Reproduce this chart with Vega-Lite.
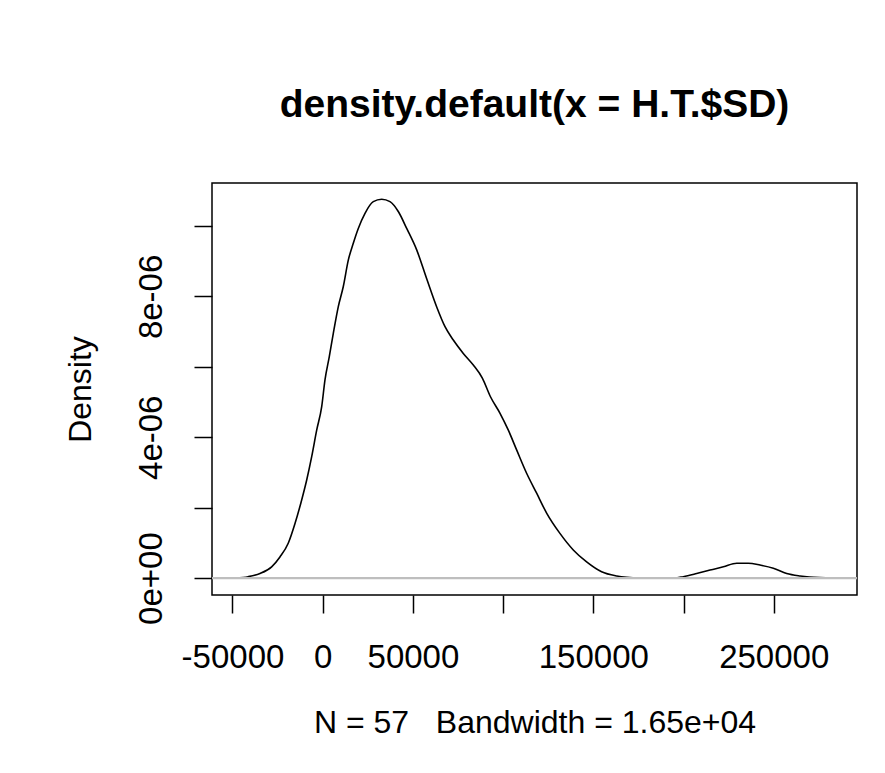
{
  "$schema": "https://vega.github.io/schema/vega-lite/v6.json",
  "width": 645,
  "height": 412,
  "autosize": {"type": "none"},
  "padding": {"left": 212, "top": 183, "right": 28, "bottom": 178},
  "background": "white",
  "title": {
    "text": "density.default(x = H.T.$SD)",
    "font": "Liberation Sans",
    "fontSize": 39,
    "fontWeight": "bold",
    "color": "black",
    "anchor": "middle",
    "baseline": "alphabetic",
    "offset": 27
  },
  "config": {
    "view": {"stroke": "black", "strokeWidth": 1.5},
    "axis": {
      "domain": false,
      "grid": false,
      "ticks": true,
      "tickColor": "black",
      "tickWidth": 1.5,
      "tickSize": 18,
      "labelFont": "Liberation Sans",
      "labelFontSize": 33,
      "labelColor": "black",
      "labelOverlap": false,
      "labelFlush": false,
      "titleFont": "Liberation Sans",
      "titleFontSize": 32,
      "titleFontWeight": "normal",
      "titleColor": "black"
    }
  },
  "data": {
    "values": [
      {"x": -48000, "density": 0},
      {"x": -41300, "density": 0.00000004},
      {"x": -34750, "density": 0.00000013},
      {"x": -28300, "density": 0.00000032},
      {"x": -23700, "density": 0.0000006},
      {"x": -19100, "density": 0.00000099},
      {"x": -15350, "density": 0.00000155},
      {"x": -11650, "density": 0.00000222},
      {"x": -8900, "density": 0.00000278},
      {"x": -6100, "density": 0.00000345},
      {"x": -3330, "density": 0.0000042},
      {"x": -550, "density": 0.00000487},
      {"x": 1270, "density": 0.00000563},
      {"x": 3660, "density": 0.00000629},
      {"x": 5880, "density": 0.00000695},
      {"x": 8650, "density": 0.00000771},
      {"x": 11420, "density": 0.00000828},
      {"x": 14190, "density": 0.00000903},
      {"x": 16960, "density": 0.00000951},
      {"x": 19730, "density": 0.00000993},
      {"x": 23450, "density": 0.00001036},
      {"x": 28050, "density": 0.00001069},
      {"x": 32700, "density": 0.00001076},
      {"x": 37300, "density": 0.00001069},
      {"x": 41900, "density": 0.00001041},
      {"x": 46560, "density": 0.00000993},
      {"x": 52100, "density": 0.00000932},
      {"x": 57650, "density": 0.0000085},
      {"x": 63200, "density": 0.0000077},
      {"x": 67800, "density": 0.00000714},
      {"x": 72400, "density": 0.00000676},
      {"x": 77940, "density": 0.00000638},
      {"x": 83480, "density": 0.00000605},
      {"x": 88500, "density": 0.00000568},
      {"x": 93000, "density": 0.00000515},
      {"x": 98300, "density": 0.00000468},
      {"x": 102900, "density": 0.0000042},
      {"x": 107500, "density": 0.00000364},
      {"x": 113100, "density": 0.00000297},
      {"x": 118600, "density": 0.00000241},
      {"x": 124200, "density": 0.00000184},
      {"x": 131500, "density": 0.00000127},
      {"x": 138900, "density": 0.0000008},
      {"x": 146300, "density": 0.00000046},
      {"x": 154600, "density": 0.00000018},
      {"x": 163000, "density": 0.00000006},
      {"x": 168500, "density": 0.00000002},
      {"x": 175000, "density": 0},
      {"x": 195000, "density": 0},
      {"x": 199900, "density": 0.00000004},
      {"x": 207300, "density": 0.00000013},
      {"x": 214700, "density": 0.00000023},
      {"x": 222100, "density": 0.00000032},
      {"x": 229500, "density": 0.00000042},
      {"x": 235900, "density": 0.00000042},
      {"x": 242400, "density": 0.00000037},
      {"x": 249800, "density": 0.00000028},
      {"x": 257200, "density": 0.00000013},
      {"x": 264600, "density": 0.00000006},
      {"x": 269700, "density": 0.00000003},
      {"x": 283000, "density": 0}
    ]
  },
  "layer": [
    {
      "mark": {"type": "line", "color": "black", "strokeWidth": 1.6, "interpolate": "monotone"},
      "encoding": {
        "x": {
          "field": "x",
          "type": "quantitative",
          "scale": {"domain": [-61360, 296170], "nice": false, "zero": false},
          "axis": {
            "title": "N = 57\u00a0\u00a0\u00a0Bandwidth = 1.65e+04",
            "values": [-50000, 0, 50000, 100000, 150000, 200000, 250000],
            "labelExpr": "datum.value == -50000 ? '-50000' : (datum.value == 100000 || datum.value == 200000) ? '' : '' + datum.value",
            "labelBaseline": "top",
            "labelPadding": 28,
            "titlePadding": 33
          }
        },
        "y": {
          "field": "density",
          "type": "quantitative",
          "scale": {"domain": [-0.00000048, 0.00001122], "nice": false, "zero": false},
          "axis": {
            "title": "Density",
            "values": [0, 0.000002, 0.000004, 0.000006, 0.000008, 0.00001],
            "labelExpr": "round(datum.value * 1e6) == 0 ? '0e+00' : round(datum.value * 1e6) == 4 ? '4e-06' : round(datum.value * 1e6) == 8 ? '8e-06' : ''",
            "labelAngle": -90,
            "labelAlign": "center",
            "labelBaseline": "alphabetic",
            "labelPadding": 33,
            "titlePadding": 38
          }
        }
      }
    },
    {
      "data": {"values": [{}]},
      "mark": {"type": "rule", "color": "#bebebe", "strokeWidth": 2.2},
      "encoding": {"y": {"datum": 0}}
    }
  ]
}
